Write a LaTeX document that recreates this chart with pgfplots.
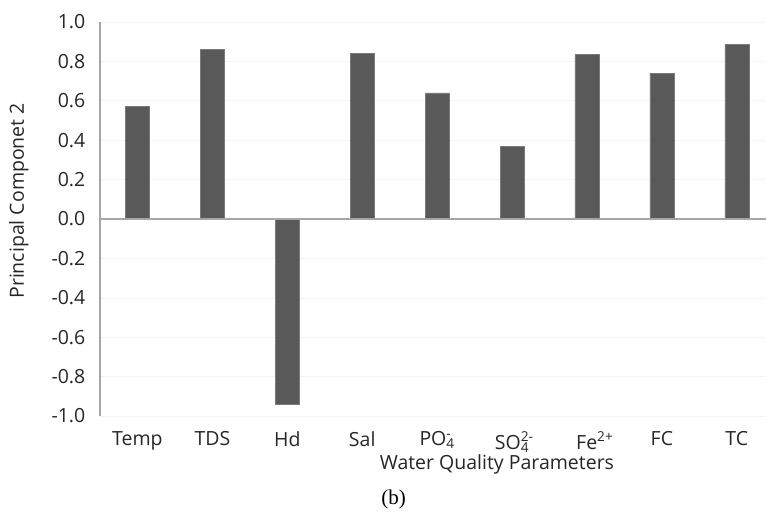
\documentclass[border=0pt]{standalone}
\usepackage{pgfplots}
\pgfplotsset{compat=1.18}
\usepackage{fontspec}
\setmainfont{Open Sans}
\newfontfamily\capfont{Liberation Serif}

\definecolor{barfill}{HTML}{595959}
\definecolor{baredge}{HTML}{7A7A7A}
\definecolor{axisgray}{HTML}{A6A6A6}
\definecolor{gridgray}{HTML}{F4F4F4}

% ion label: subscript with the charge stacked above it
\newcommand{\ion}[3]{#1\makebox[0pt][l]{\textsuperscript{#3}}\textsubscript{#2}}
\newcommand{\lblfont}{\fontsize{19.5bp}{23bp}\selectfont}

\begin{document}
\begin{tikzpicture}
\lblfont
\path[use as bounding box] (-100bp,-100bp) rectangle (667bp,416bp);
\begin{axis}[
  at={(0,0)}, anchor=south west,
  scale only axis,
  width=666bp, height=394bp,
  xmin=-0.5, xmax=8.39,
  ymin=-1, ymax=1,
  ytick={-1,-0.8,...,1.01},
  xtick={0,...,8},
  xticklabels={Temp, TDS, Hd, Sal, \ion{PO}{4}{-}, \ion{SO}{4}{2-}, \ion{Fe}{}{2+}, FC, TC},
  major tick length=0pt,
  axis y line*=left,
  axis x line*=bottom,
  x axis line style={draw=none},
  y axis line style={draw=axisgray, line width=1.2pt},
  axis line style={-},
  ymajorgrids,
  grid style={draw=gridgray, line width=0.6pt},
  tick label style={font=\lblfont, text=black!85},
  yticklabel style={xshift=-8bp, /pgf/number format/.cd, fixed, fixed zerofill, precision=1, assume math mode=true},
  xticklabel style={yshift=-9bp},
  xlabel={Water Quality Parameters},
  ylabel={Principal Componet 2},
  label style={font=\lblfont, text=black!85},
  xlabel style={at={(axis description cs:0.596,-0.124)}, anchor=center},
  ylabel style={at={(axis description cs:-0.122,0.546)}, anchor=center, rotate=0},
  clip=false,
]
\addplot[ybar, bar width=24bp, fill=barfill, draw=baredge, line width=0.5pt]
  coordinates {(0,0.57) (1,0.86) (2,-0.94) (3,0.84) (4,0.64) (5,0.37) (6,0.835) (7,0.74) (8,0.885)};
\draw[axisgray, line width=1.2pt] (axis cs:-0.5,0) -- (axis cs:8.39,0);
\node[font=\capfont\fontsize{21bp}{24bp}\selectfont] at (axis description cs:0.441,-0.213) {(b)};
\end{axis}
\end{tikzpicture}
\end{document}
